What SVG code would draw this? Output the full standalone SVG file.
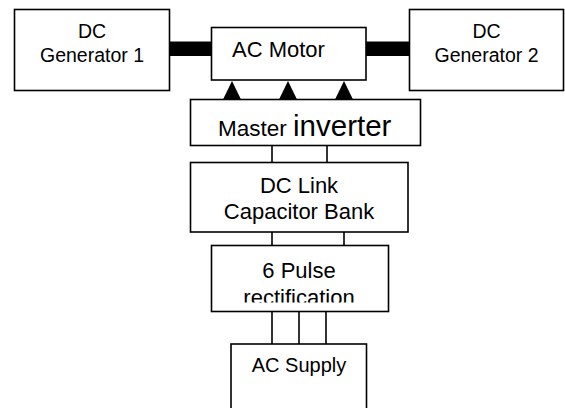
<svg xmlns="http://www.w3.org/2000/svg" width="565" height="408" viewBox="0 0 565 408">
  <style>
    .box { fill: #fff; stroke: #000; stroke-width: 1.6; }
    .wire { stroke: #000; stroke-width: 1.6; fill: none; }
    .shaft { fill: #000; }
    .tip { fill: #000; }
    text { font-family: "Liberation Sans", Arial, Helvetica, sans-serif; fill: #000; }
    .gen { font-size: 19.5px; text-anchor: middle; }
    .lbl { font-size: 22px; }
    .mid { text-anchor: middle; }
  </style>
  <defs>
    <clipPath id="rectClip">
      <rect x="212" y="246" width="176" height="56.5"/>
    </clipPath>
  </defs>

  <!-- connectors: shafts, phase arrows and DC/AC wiring -->
  <g id="connectors">
    <rect class="shaft" x="169.5" y="41.5" width="42" height="14.5"/>
    <rect class="shaft" x="366" y="41.5" width="43.5" height="14.5"/>
    <polygon class="tip" points="232,81 223,99.5 241,99.5"/>
    <polygon class="tip" points="288,81 279,99.5 297,99.5"/>
    <polygon class="tip" points="344,81 335,99.5 353,99.5"/>
    <line class="wire" x1="272" y1="145.5" x2="272" y2="162.5"/>
    <line class="wire" x1="327" y1="145.5" x2="327" y2="162.5"/>
    <line class="wire" x1="272" y1="232" x2="272" y2="245.5"/>
    <line class="wire" x1="344" y1="232" x2="344" y2="245.5"/>
    <line class="wire" x1="272" y1="311.5" x2="272" y2="344"/>
    <line class="wire" x1="299" y1="311.5" x2="299" y2="344"/>
    <line class="wire" x1="326" y1="311.5" x2="326" y2="344"/>
  </g>

  <g id="dc-generator-1">
    <rect class="box" x="14.5" y="9.5" width="155" height="81"/>
    <text class="gen" x="92" y="38">DC</text>
    <text class="gen" x="92" y="62">Generator 1</text>
  </g>

  <g id="ac-motor">
    <rect class="box" x="211.5" y="27.5" width="154.5" height="52.5"/>
    <text class="lbl" x="232" y="57">AC Motor</text>
  </g>

  <g id="dc-generator-2">
    <rect class="box" x="409.5" y="9.5" width="154" height="81"/>
    <text class="gen" x="486.5" y="38">DC</text>
    <text class="gen" x="486.5" y="62">Generator 2</text>
  </g>

  <g id="master-inverter">
    <rect class="box" x="190.5" y="99.5" width="230" height="46"/>
    <text x="218" y="136" font-size="22.5px">Master <tspan font-size="29.5px">inverter</tspan></text>
  </g>

  <g id="dc-link">
    <rect class="box" x="190.5" y="162.5" width="217.5" height="69.5"/>
    <text class="lbl mid" x="299" y="193">DC Link</text>
    <text class="lbl mid" x="299" y="219">Capacitor Bank</text>
  </g>

  <g id="rectifier">
    <rect class="box" x="211.5" y="245.5" width="177" height="66"/>
    <text class="lbl mid" x="299" y="278">6 Pulse</text>
    <text class="lbl mid" x="299" y="304.5" clip-path="url(#rectClip)">rectification</text>
  </g>

  <g id="ac-supply">
    <rect class="box" x="231" y="344" width="135.5" height="80"/>
    <text class="mid" x="299" y="372" font-size="20px">AC Supply</text>
  </g>
</svg>
